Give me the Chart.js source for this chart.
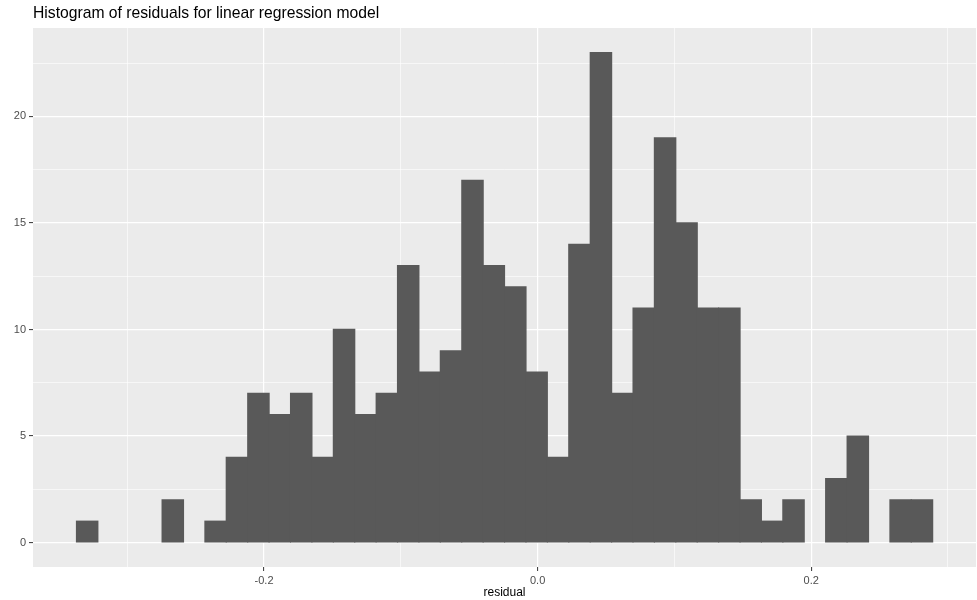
<!DOCTYPE html>
<html>
<head>
<meta charset="utf-8">
<script src="https://cdn.jsdelivr.net/npm/chart.js@4/dist/chart.umd.min.js"></script>
<style>
  html, body { margin: 0; padding: 0; background: #ffffff; }
  #wrap { width: 977px; height: 600px; }
</style>
</head>
<body>
<div id="wrap"><canvas id="c" width="977" height="600"></canvas></div>
<script>
// ---- data ----
const chartTitle = "Histogram of residuals for linear regression model";
const xTitle = "residual";
// bin centres (residual), bin width ~0.01565
const binCenters = [
  -0.3293, -0.3137, -0.2980, -0.2824, -0.2667, -0.2511, -0.2354, -0.2198, -0.2041, -0.1885,
  -0.1728, -0.1572, -0.1415, -0.1259, -0.1102, -0.0946, -0.0789, -0.0633, -0.0476, -0.0320,
  -0.0163, -0.0007,  0.0150,  0.0306,  0.0463,  0.0619,  0.0776,  0.0932,  0.1089,  0.1245,
   0.1402,  0.1558,  0.1715,  0.1871,  0.2028,  0.2184,  0.2341,  0.2497,  0.2654,  0.2810
];
const counts = [
  1, 0, 0, 0, 2, 0, 1, 4, 7, 6,
  7, 4, 10, 6, 7, 13, 8, 9, 17, 13,
  12, 8, 4, 14, 23, 7, 11, 19, 15, 11,
  11, 2, 1, 2, 0, 3, 5, 0, 2, 2
];
const xTickValues = [-0.3, -0.2, -0.1, 0.0, 0.1, 0.2, 0.3];
const xTickLabels = ["", "-0.2", "", "0.0", "", "0.2", ""];
const yTickValues = [0, 2.5, 5, 7.5, 10, 12.5, 15, 17.5, 20, 22.5];
const yTickLabels = ["0", "", "5", "", "10", "", "15", "", "20", ""];

// ---- chart ----
const points = binCenters.map((x, i) => ({ x: x, y: counts[i] }));

function labelFor(values, labels, v) {
  let best = 0, bd = Infinity;
  values.forEach((t, i) => { const d = Math.abs(t - v); if (d < bd) { bd = d; best = i; } });
  return labels[best];
}

const panelBg = {
  id: 'panelBg',
  beforeDraw(chart) {
    const { ctx, chartArea: a } = chart;
    ctx.save();
    ctx.fillStyle = '#EBEBEB';
    ctx.fillRect(a.left, a.top, a.right - a.left, a.bottom - a.top);
    ctx.restore();
  }
};

const font = "'Liberation Sans', Arial, sans-serif";

new Chart(document.getElementById('c'), {
  type: 'bar',
  data: {
    datasets: [{
      data: points,
      backgroundColor: '#595959',
      borderWidth: 0,
      barPercentage: 1,
      categoryPercentage: 1,
      inflateAmount: (ctx) => (ctx.raw && ctx.raw.y === 0) ? 0 : 0.6
    }]
  },
  options: {
    responsive: false,
    animation: false,
    devicePixelRatio: 1,
    layout: { padding: { left: 0, right: 1, top: 0, bottom: 0 } },
    plugins: {
      legend: { display: false },
      tooltip: { enabled: false },
      title: {
        display: true,
        text: chartTitle,
        align: 'start',
        fullSize: false,
        color: '#000000',
        font: { family: font, size: 15.7, weight: 'normal', lineHeight: 1.2 },
        padding: { top: 4.4, bottom: 4.8 }
      }
    },
    scales: {
      x: {
        type: 'linear',
        offset: false,
        min: -0.3689,
        max: 0.3205,
        afterBuildTicks: (scale) => { scale.ticks = xTickValues.map(v => ({ value: v })); },
        afterFit: (scale) => { scale.height = 33; },
        border: { display: false },
        grid: {
          offset: false,
          color: '#FFFFFF',
          lineWidth: (ctx) => labelFor(xTickValues, xTickLabels, ctx.tick ? ctx.tick.value : 0) ? 1.2 : 0.6,
          drawTicks: true,
          tickLength: 4,
          tickWidth: 1,
          tickColor: (ctx) => labelFor(xTickValues, xTickLabels, ctx.tick ? ctx.tick.value : 0) ? '#333333' : 'rgba(0,0,0,0)'
        },
        ticks: {
          autoSkip: false,
          maxRotation: 0,
          padding: 3,
          color: '#4D4D4D',
          font: { family: font, size: 11 },
          callback: (v) => labelFor(xTickValues, xTickLabels, v)
        },
        title: {
          display: true,
          text: xTitle,
          color: '#000000',
          font: { family: font, size: 12 },
          padding: { top: 0, bottom: 0 }
        }
      },
      y: {
        type: 'linear',
        min: -1.15,
        max: 24.15,
        afterBuildTicks: (scale) => { scale.ticks = yTickValues.map(v => ({ value: v })); },
        afterFit: (scale) => { scale.width = 33; },
        border: { display: false },
        grid: {
          color: '#FFFFFF',
          lineWidth: (ctx) => labelFor(yTickValues, yTickLabels, ctx.tick ? ctx.tick.value : 0) ? 1.2 : 0.6,
          drawTicks: true,
          tickLength: 4,
          tickWidth: 1,
          tickColor: (ctx) => labelFor(yTickValues, yTickLabels, ctx.tick ? ctx.tick.value : 0) ? '#333333' : 'rgba(0,0,0,0)'
        },
        ticks: {
          autoSkip: false,
          padding: 3,
          color: '#4D4D4D',
          font: { family: font, size: 11 },
          callback: (v) => labelFor(yTickValues, yTickLabels, v)
        }
      }
    }
  },
  plugins: [panelBg]
});
</script>
</body>
</html>
